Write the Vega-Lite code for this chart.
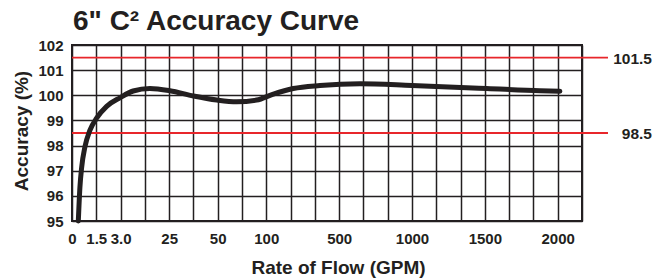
{
  "$schema": "https://vega.github.io/schema/vega-lite/v6.json",
  "width": 510,
  "height": 176,
  "autosize": {"type": "none"},
  "padding": {"left": 72, "top": 45, "right": 83, "bottom": 59},
  "background": "white",
  "config": {
    "font": "Liberation Sans",
    "view": {"stroke": "#231f20", "strokeWidth": 2},
    "axis": {
      "labelFont": "Liberation Sans",
      "labelFontWeight": "bold",
      "labelFontSize": 15,
      "labelColor": "#231f20",
      "titleFont": "Liberation Sans",
      "titleFontWeight": "bold",
      "titleFontSize": 19,
      "titleColor": "#231f20",
      "ticks": false,
      "gridColor": "#231f20",
      "gridOpacity": 1,
      "gridWidth": 1.5,
      "domain": false
    }
  },
  "title": {
    "text": "6\" C² Accuracy Curve",
    "font": "Liberation Sans",
    "fontSize": 28,
    "fontWeight": "bold",
    "color": "#231f20",
    "anchor": "start",
    "frame": "group",
    "offset": 2,
    "dx": 1
  },
  "datasets": {
    "curve": [
      {"gpm": 0.39, "acc": 95.0},
      {"gpm": 0.49, "acc": 96.35},
      {"gpm": 0.6, "acc": 97.15},
      {"gpm": 0.8, "acc": 97.95},
      {"gpm": 1.11, "acc": 98.61},
      {"gpm": 1.53, "acc": 99.1},
      {"gpm": 2.14, "acc": 99.56},
      {"gpm": 2.96, "acc": 99.9},
      {"gpm": 8.7, "acc": 100.17},
      {"gpm": 16.3, "acc": 100.27},
      {"gpm": 25.4, "acc": 100.18},
      {"gpm": 37.5, "acc": 99.97},
      {"gpm": 49.5, "acc": 99.81},
      {"gpm": 69.5, "acc": 99.74},
      {"gpm": 90, "acc": 99.81},
      {"gpm": 138.7, "acc": 100.05},
      {"gpm": 248, "acc": 100.27},
      {"gpm": 395, "acc": 100.39},
      {"gpm": 643, "acc": 100.46},
      {"gpm": 1000, "acc": 100.39},
      {"gpm": 1512, "acc": 100.27},
      {"gpm": 1878, "acc": 100.18},
      {"gpm": 2015, "acc": 100.16}
    ],
    "limits": [
      {"level": 101.5, "from": 0, "to": 2345, "label": "101.5"},
      {"level": 98.5, "from": 0, "to": 2345, "label": "98.5"}
    ]
  },
  "encoding": {
    "x": {
      "field": "gpm",
      "type": "quantitative",
      "scale": {
        "type": "linear",
        "domain": [0, 1.5, 3, 25, 50, 100, 500, 1000, 1500, 2000, 2166.6667],
        "range": [0, {"expr": "width*1/21"}, {"expr": "width*2/21"}, {"expr": "width*4/21"}, {"expr": "width*6/21"}, {"expr": "width*8/21"}, {"expr": "width*11/21"}, {"expr": "width*14/21"}, {"expr": "width*17/21"}, {"expr": "width*20/21"}, {"expr": "width"}],
        "nice": false,
        "zero": false
      },
      "axis": {
        "title": "Rate of Flow (GPM)",
        "values": [0, 1.5, 3, 14, 25, 37.5, 50, 75, 100, 233.3333, 366.6667, 500, 666.6667, 833.3333, 1000, 1166.6667, 1333.3333, 1500, 1666.6667, 1833.3333, 2000, 2166.6667],
        "labelExpr": "datum.value == 3 ? '3.0' : (indexof([0, 1.5, 25, 50, 100, 500, 1000, 1500, 2000], datum.value) >= 0 ? '' + datum.value : '')",
        "labelOverlap": false,
        "labelBound": false,
        "labelFlush": false,
        "labelPadding": 10,
        "titleX": 266,
        "titleY": 52.6,
        "titleBaseline": "alphabetic",
        "titleAnchor": null,
        "titleAlign": "center"
      }
    },
    "y": {
      "field": "acc",
      "type": "quantitative",
      "scale": {"domain": [95, 102], "nice": false, "zero": false},
      "axis": {
        "title": "Accuracy (%)",
        "values": [95, 96, 97, 98, 99, 100, 101, 102],
        "labelPadding": 9,
        "titleX": -51,
        "titleY": 85.5,
        "titleAlign": "center",
        "titleBaseline": "middle",
        "titleAngle": -90
      }
    }
  },
  "layer": [
    {
      "data": {"name": "limits"},
      "mark": {"type": "rule", "color": "#e8262b", "strokeWidth": 1.8, "clip": false},
      "encoding": {
        "x": {"field": "from", "type": "quantitative"},
        "x2": {"field": "to"},
        "y": {"field": "level", "type": "quantitative"}
      }
    },
    {
      "data": {"name": "limits"},
      "mark": {"type": "text", "align": "right", "baseline": "middle", "dx": 44, "dy": 1, "font": "Liberation Sans", "fontWeight": "bold", "fontSize": 15.5, "color": "#231f20", "clip": false},
      "encoding": {
        "x": {"field": "to", "type": "quantitative"},
        "y": {"field": "level", "type": "quantitative"},
        "text": {"field": "label"}
      }
    },
    {
      "data": {"name": "curve"},
      "mark": {"type": "line", "color": "#231f20", "strokeWidth": 5, "interpolate": "monotone", "strokeCap": "round"},
      "encoding": {
        "x": {"field": "gpm", "type": "quantitative"},
        "y": {"field": "acc", "type": "quantitative"}
      }
    }
  ]
}
